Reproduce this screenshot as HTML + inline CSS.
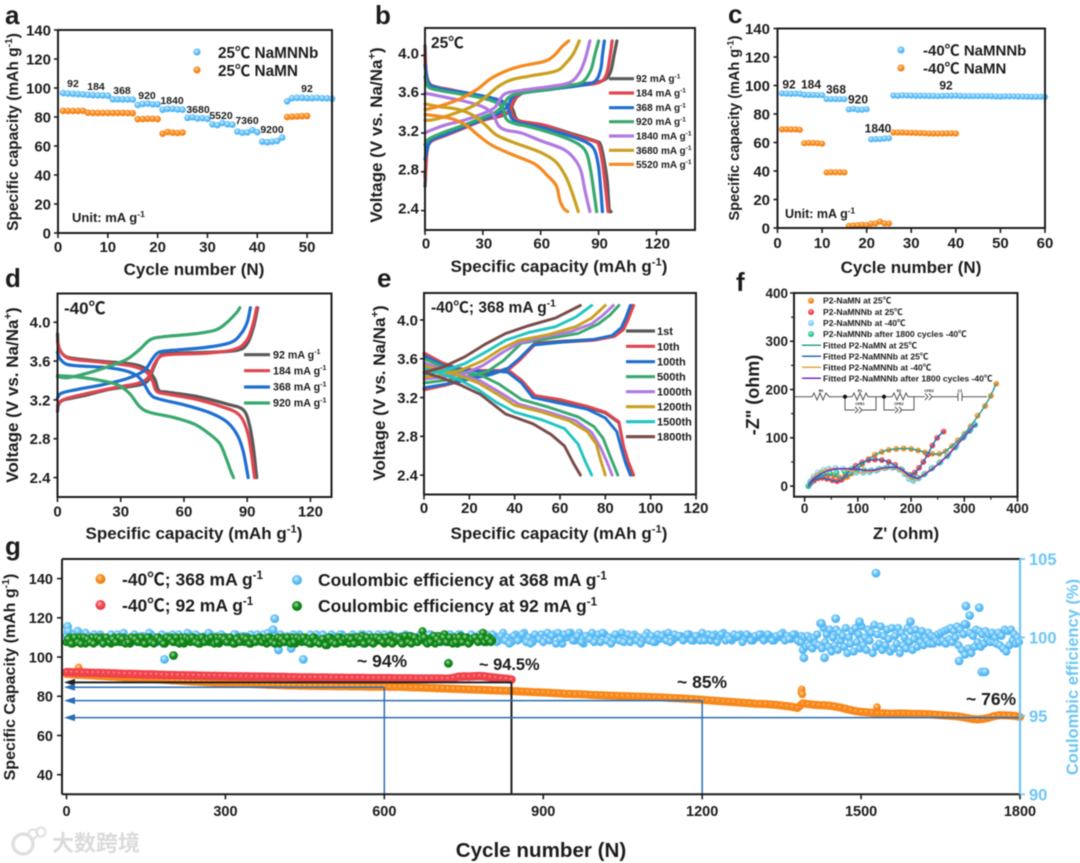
<!DOCTYPE html>
<html lang="en">
<head>
<meta charset="utf-8">
<title>Battery performance figure</title>
<style>
html,body{margin:0;padding:0;background:#fff;}
#figure{display:block;width:1080px;height:863px;filter:blur(0.55px);}
text{font-family:"Liberation Sans","Noto Sans CJK SC",sans-serif;font-weight:bold;fill:#1c1c1c;}
</style>
</head>
<body>
<svg id="figure" xmlns="http://www.w3.org/2000/svg" width="1080" height="863" viewBox="0 0 1080 863">
<defs>
<radialGradient id="ballBlue" cx="42%" cy="38%" r="62%"><stop offset="0%" stop-color="#d9f1ff"/><stop offset="50%" stop-color="#66c2f8"/><stop offset="100%" stop-color="#46aeef"/></radialGradient>
<radialGradient id="ballOrange" cx="42%" cy="38%" r="62%"><stop offset="0%" stop-color="#ffd9ae"/><stop offset="50%" stop-color="#f88c1e"/><stop offset="100%" stop-color="#f07d10"/></radialGradient>
<radialGradient id="ballRed" cx="42%" cy="38%" r="62%"><stop offset="0%" stop-color="#ffb9bd"/><stop offset="50%" stop-color="#f2464f"/><stop offset="100%" stop-color="#e83a44"/></radialGradient>
<radialGradient id="ballGreen" cx="42%" cy="38%" r="62%"><stop offset="0%" stop-color="#a9dcaa"/><stop offset="50%" stop-color="#128a1a"/><stop offset="100%" stop-color="#0b7a12"/></radialGradient>
<radialGradient id="ballCyan" cx="42%" cy="38%" r="62%"><stop offset="0%" stop-color="#e6f8ff"/><stop offset="55%" stop-color="#7cd3f6"/><stop offset="100%" stop-color="#62c6f0"/></radialGradient>
<radialGradient id="ballTeal" cx="42%" cy="38%" r="62%"><stop offset="0%" stop-color="#c4f5e6"/><stop offset="55%" stop-color="#2fc6a0"/><stop offset="100%" stop-color="#1fb48e"/></radialGradient>
<radialGradient id="flatOrange" cx="45%" cy="40%" r="60%"><stop offset="0%" stop-color="#ffc38a"/><stop offset="30%" stop-color="#f98b1d"/><stop offset="100%" stop-color="#f6841a"/></radialGradient>
<radialGradient id="flatRed" cx="45%" cy="40%" r="60%"><stop offset="0%" stop-color="#ff9fa6"/><stop offset="30%" stop-color="#f2464f"/><stop offset="100%" stop-color="#ee3f49"/></radialGradient>
</defs>
<g opacity="0.9">
  <circle cx="23" cy="844" r="10" fill="none" stroke="#dcdcdc" stroke-width="3.5"/>
  <circle cx="33" cy="834" r="4.5" fill="none" stroke="#dcdcdc" stroke-width="2"/>
  <circle cx="41" cy="832" r="4.5" fill="none" stroke="#dcdcdc" stroke-width="2"/>
  <text x="52" y="851" font-size="22" style="fill:#d8d8d8;font-weight:bold">大数跨境</text>
</g>
<g id="root"></g>
</svg>
<script>
// ---------- Panel a: rate capability at 25 C ----------
const aCycles = [1,2,3,4,5,6,7,8,9,10,11,12,13,14,15,16,17,18,19,20,21,22,23,24,25,26,27,28,29,30,31,32,33,34,35,36,37,38,39,40,41,42,43,44,45,46,47,48,49,50,51,52,53,54,55];
const aNaMNNb = [96.5,96.2,96,95.8,95.6,95.3,95.1,95,94.9,94.7,92.2,92.2,92.1,92.1,92,88.3,89,89.3,88.8,88.8,85,85.6,85.6,85.2,85.1,79.4,79.8,79,79.2,78.8,75,74.4,75.8,75,74.7,70,69.2,69.4,71,69.5,63,62.6,63,63.5,65.8,90.8,93,93.2,93.2,93,93,93.2,93,92.9,92.6];
const aNaMNCycles = [1,2,3,4,5,6,7,8,9,10,11,12,13,14,15,16,17,18,19,20,21,22,23,24,25,46,47,48,49,50];
const aNaMN = [84.3,84.2,84.2,84.2,84.3,83,82.8,82.8,82.8,82.8,82.8,82.8,82.8,82.7,82.6,78.5,78.6,78.8,78.8,78.6,68.5,69.6,69.2,69,69.3,80,80.2,80.4,80.6,80.7];
const aXTicks = [0,10,20,30,40,50];
const aYTicks = [0,20,40,60,80,100,120,140];

// ---------- Panel c: rate capability at -40 C ----------
const cCycles = [1,2,3,4,5,6,7,8,9,10,11,12,13,14,15,16,17,18,19,20,21,22,23,24,25,26,27,28,29,30,31,32,33,34,35,36,37,38,39,40,41,42,43,44,45,46,47,48,49,50,51,52,53,54,55,56,57,58,59,60];
const cNaMNNb = [94.5,94.3,94.2,94.3,94.2,93.5,93.4,93.4,93.3,93.3,90.5,90.5,90.5,90.4,90.4,83.2,83.6,83,83,83.4,62.2,62.4,62.4,62.8,63,93,92.8,93.1,93,92.9,92.8,92.8,92.8,92.7,92.7,92.6,92.7,92.8,92.8,92.9,92.7,92.6,92.6,92.6,92.6,92.6,92.6,92.5,92.3,92.2,92.4,92.4,92.4,92.3,92.3,92.2,92.1,92.1,92.1,92];
const cNaMNCycles = [1,2,3,4,5,6,7,8,9,10,11,12,13,14,15,16,17,18,19,20,21,22,23,24,25,26,27,28,29,30,31,32,33,34,35,36,37,38,39,40];
const cNaMN = [69.2,69.3,69.2,69.2,68.9,59.5,59.7,59.7,59.5,59.2,39,39.1,39.1,39.1,39,1.5,1.8,2,2.2,2,3,3.2,4.5,3.2,3.2,67,67,67,66.9,66.8,66.7,66.6,66.5,66.3,66.3,66.3,66.3,66.4,66.4,66.3];
const cXTicks = [0,10,20,30,40,50,60];
const cYTicks = [0,20,40,60,80,100,120,140];

// ---------- Panel b: voltage profiles at 25 C, [capacity, voltage] ----------
const b92Charge = [[0,2.65],[1,3.0],[3,3.12],[10,3.17],[20,3.25],[30,3.33],[40,3.38],[44,3.43],[46,3.52],[48,3.58],[52,3.62],[65,3.66],[80,3.7],[92,3.74],[96,3.82],[98,4.0],[99.5,4.15]];
const b92Discharge = [[0,4.1],[0.5,3.85],[2,3.72],[5,3.68],[15,3.63],[30,3.58],[40,3.52],[45,3.46],[47,3.36],[50,3.32],[62,3.28],[75,3.2],[88,3.12],[91,3.08],[93,2.9],[94.5,2.7],[95.5,2.42],[96.5,2.39]];
const b184Charge = [[0,2.75],[1,3.0],[3,3.11],[10,3.17],[20,3.25],[30,3.33],[40,3.39],[44,3.44],[46,3.54],[49,3.59],[52,3.62],[65,3.66],[80,3.69],[90,3.72],[94,3.8],[96,4.0],[97,4.15]];
const b184Discharge = [[0,4.0],[0.5,3.82],[2,3.72],[5,3.68],[15,3.64],[30,3.58],[40,3.52],[44,3.46],[46,3.36],[50,3.32],[62,3.28],[75,3.19],[87,3.12],[90,3.08],[92,2.9],[93.5,2.65],[95,2.39]];
const b368Charge = [[0,2.93],[1,3.02],[3,3.12],[10,3.18],[20,3.26],[30,3.34],[38,3.4],[43,3.48],[45,3.56],[50,3.61],[65,3.65],[80,3.69],[88,3.73],[91,3.85],[92,4.0],[93,4.15]];
const b368Discharge = [[0,3.9],[1,3.76],[3,3.69],[10,3.65],[25,3.6],[35,3.56],[42,3.5],[45,3.35],[50,3.3],[60,3.26],[75,3.17],[84,3.1],[88,3.02],[90,2.85],[91.2,2.6],[92,2.39]];
const b920Charge = [[0,3.08],[1,3.12],[3,3.15],[10,3.21],[20,3.28],[30,3.36],[37,3.42],[41,3.5],[43,3.56],[47,3.6],[60,3.64],[75,3.69],[82,3.73],[86,3.85],[88,4.0],[90,4.15]];
const b920Discharge = [[0,3.78],[1,3.7],[3,3.66],[10,3.63],[25,3.58],[35,3.53],[40,3.47],[42,3.35],[46,3.3],[55,3.26],[70,3.17],[80,3.08],[84,2.98],[86,2.8],[87.5,2.6],[89,2.39]];
const b1840Charge = [[0,3.2],[2,3.22],[10,3.28],[20,3.33],[30,3.4],[36,3.46],[39,3.55],[42,3.61],[50,3.64],[65,3.68],[75,3.72],[80,3.82],[83,3.96],[85.5,4.15]];
const b1840Discharge = [[0,3.61],[3,3.6],[10,3.57],[20,3.53],[30,3.47],[35,3.4],[38,3.28],[42,3.23],[50,3.2],[60,3.12],[72,3.03],[78,2.92],[81,2.8],[83,2.6],[85.5,2.39]];
const b3680Charge = [[0,3.33],[5,3.34],[15,3.4],[25,3.48],[32,3.58],[38,3.68],[45,3.75],[55,3.79],[68,3.84],[73,3.92],[77,4.02],[80,4.15]];
const b3680Discharge = [[0,3.5],[8,3.47],[18,3.44],[26,3.37],[32,3.27],[37,3.18],[45,3.11],[60,3.0],[68,2.9],[73,2.75],[76,2.6],[79.5,2.39]];
const b5520Charge = [[0,3.44],[8,3.48],[18,3.55],[27,3.65],[34,3.76],[42,3.84],[50,3.89],[62,3.94],[67,4.0],[71,4.09],[74.5,4.15]];
const b5520Discharge = [[0,3.39],[8,3.37],[15,3.34],[22,3.27],[28,3.17],[35,3.07],[45,2.98],[57,2.88],[63,2.77],[68,2.66],[70,2.5],[72,2.42],[74,2.39]];
const bLegend = ['92','184','368','920','1840','3680','5520'];
const bXTicks = [0,30,60,90,120];
const vTicks = [2.4,2.8,3.2,3.6,4.0];

// ---------- Panel d: voltage profiles at -40 C ----------
const d92Charge = [[0,3.08],[0.5,3.15],[3,3.2],[12,3.24],[25,3.31],[38,3.35],[43,3.4],[46,3.55],[49,3.66],[55,3.68],[70,3.69],[85,3.71],[90,3.78],[93,3.95],[95,4.15]];
const d92Discharge = [[0,3.88],[0.5,3.75],[3,3.66],[7,3.63],[20,3.6],[35,3.57],[42,3.52],[46,3.42],[48,3.3],[52,3.28],[65,3.24],[80,3.16],[88,3.1],[91,2.95],[93,2.7],[94.5,2.4]];
const d184Charge = [[0,3.14],[1,3.18],[5,3.22],[15,3.27],[28,3.33],[38,3.37],[43,3.43],[46,3.57],[49,3.65],[55,3.67],[70,3.68],[84,3.72],[90,3.82],[93,4.0],[94.5,4.15]];
const d184Discharge = [[0,3.8],[1,3.72],[3,3.66],[7,3.62],[20,3.59],[35,3.55],[42,3.49],[45,3.4],[47,3.29],[52,3.26],[65,3.21],[78,3.13],[86,3.05],[90,2.88],[92,2.65],[93.5,2.4]];
const d368Charge = [[0,3.22],[2,3.27],[10,3.31],[22,3.36],[33,3.42],[41,3.5],[45,3.62],[48,3.69],[54,3.71],[70,3.74],[82,3.79],[87,3.88],[90,4.0],[91.5,4.15]];
const d368Discharge = [[0,3.69],[1,3.63],[4,3.57],[10,3.55],[25,3.53],[35,3.48],[40,3.4],[44,3.26],[48,3.21],[60,3.15],[72,3.07],[80,2.98],[85,2.85],[88,2.68],[90.5,2.4]];
const d920Charge = [[0,3.44],[5,3.43],[15,3.48],[25,3.55],[33,3.62],[39,3.72],[44,3.82],[50,3.85],[65,3.88],[75,3.92],[80,3.99],[85,4.1],[86.5,4.15]];
const d920Discharge = [[0,3.45],[8,3.44],[18,3.41],[28,3.36],[34,3.27],[39,3.13],[44,3.07],[55,3.02],[65,2.95],[72,2.85],[77,2.75],[80,2.6],[82,2.48],[83.5,2.4]];
const dLegend = ['92','184','368','920'];
const dXTicks = [0,30,60,90,120];

// ---------- Panel e: cycling voltage profiles at -40 C ----------
const e1Charge = [[0,3.29],[10,3.34],[20,3.4],[30,3.45],[38,3.51],[42,3.59],[49,3.76],[60,3.78],[75,3.8],[84,3.84],[88,3.91],[90,4.01],[92,4.15]];
const e1Discharge = [[0,3.65],[8,3.55],[15,3.5],[25,3.47],[33,3.47],[38,3.46],[43,3.37],[49,3.21],[60,3.17],[72,3.1],[80,3.04],[86,2.94],[88,2.7],[90,2.54],[92,2.4]];
const e10Charge = [[0,3.28],[10,3.33],[20,3.39],[30,3.44],[38,3.5],[42,3.58],[49,3.75],[60,3.77],[75,3.79],[84,3.83],[88,3.9],[90,4.0],[92.5,4.15]];
const e10Discharge = [[0,3.66],[8,3.56],[15,3.5],[25,3.48],[33,3.48],[38,3.47],[43,3.38],[49,3.22],[60,3.18],[72,3.11],[80,3.05],[86,2.95],[88,2.7],[90,2.55],[92.5,2.4]];
const e100Charge = [[0,3.3],[10,3.34],[20,3.39],[30,3.44],[37,3.5],[42,3.6],[48,3.74],[60,3.77],[75,3.8],[83,3.84],[87,3.92],[89,4.02],[91,4.15]];
const e100Discharge = [[0,3.63],[8,3.54],[15,3.49],[25,3.47],[33,3.47],[37,3.46],[43,3.35],[48,3.2],[60,3.14],[72,3.08],[80,2.99],[85,2.85],[87,2.68],[89,2.52],[91,2.4]];
const e500Charge = [[0,3.35],[10,3.38],[20,3.42],[28,3.47],[35,3.58],[43,3.76],[55,3.81],[68,3.86],[77,3.96],[82,4.05],[86,4.15]];
const e500Discharge = [[0,3.6],[8,3.52],[15,3.47],[25,3.43],[33,3.34],[43,3.18],[55,3.1],[68,3.0],[75,2.9],[79,2.78],[82,2.6],[85.5,2.4]];
const e1000Charge = [[0,3.39],[8,3.41],[18,3.45],[26,3.53],[35,3.67],[42,3.76],[52,3.82],[65,3.88],[74,3.96],[79,4.05],[83.5,4.15]];
const e1000Discharge = [[0,3.56],[6,3.51],[14,3.45],[25,3.37],[33,3.26],[42,3.13],[55,3.05],[67,2.96],[74,2.84],[78,2.68],[81,2.52],[83,2.4]];
const e1200Charge = [[0,3.41],[8,3.43],[16,3.48],[26,3.58],[34,3.7],[42,3.79],[55,3.85],[67,3.93],[74,4.02],[80,4.15]];
const e1200Discharge = [[0,3.53],[6,3.49],[14,3.44],[24,3.35],[32,3.24],[40,3.12],[52,3.05],[64,2.96],[72,2.85],[76,2.72],[78,2.55],[80,2.4]];
const e1500Charge = [[0,3.44],[8,3.47],[18,3.55],[28,3.68],[36,3.79],[46,3.87],[58,3.93],[67,4.03],[74,4.15]];
const e1500Discharge = [[0,3.5],[6,3.46],[15,3.39],[24,3.28],[32,3.15],[40,3.05],[52,2.97],[62,2.88],[68,2.72],[71,2.55],[74,2.4]];
const e1800Charge = [[0,3.46],[8,3.51],[18,3.62],[27,3.75],[36,3.86],[46,3.94],[58,4.02],[64,4.09],[69,4.15]];
const e1800Discharge = [[0,3.46],[8,3.4],[16,3.33],[25,3.23],[36,3.03],[48,2.93],[56,2.82],[62,2.7],[66,2.52],[69,2.4]];
const eLegend = ['1st','10th','100th','500th','1000th','1200th','1500th','1800th'];
const eXTicks = [0,20,40,60,80,100,120];

// ---------- Panel f: Nyquist plots, [Z', -Z''] ----------
const fNaMN25 = [[7,0],[11,8],[17,14],[25,19],[35,23],[45,24],[55,22],[65,18],[73,17],[80,19],[88,26],[97,34],[108,45],[120,56],[132,65],[145,71],[158,75],[172,77],[186,78],[200,77],[213,74],[226,70],[240,67],[253,67],[265,72],[277,83],[288,95],[300,108],[312,124],[325,146],[339,166],[350,187],[360,212]];
const fNaMNNb25 = [[7,0],[11,6],[17,11],[25,16],[33,17],[42,15],[52,12],[61,10],[69,13],[77,22],[86,33],[96,42],[108,49],[120,54],[132,55],[145,54],[158,50],[170,44],[180,35],[190,25],[198,23],[207,28],[215,38],[223,50],[231,65],[240,84],[249,100],[261,113]];
const fNaMNNb40 = [[7,0],[11,10],[17,20],[25,28],[35,33],[45,36],[58,37],[72,36],[85,32],[97,28],[110,28],[122,29],[135,32],[150,37],[165,38],[178,34],[188,25],[196,15],[204,11],[214,16],[226,26],[240,38],[255,50],[270,66],[285,84],[300,104],[312,118],[320,127]];
const fNaMNNb1800 = [[7,0],[11,8],[17,15],[25,21],[35,25],[48,27],[60,28],[75,30],[88,36],[100,35],[112,33],[125,33],[140,36],[155,39],[170,39],[183,34],[193,24],[202,19],[212,18],[224,24],[238,36],[253,48],[268,62],[283,80],[298,100],[310,114],[320,127]];
const fFitNaMN25 = [[7,0],[15,12],[30,21],[45,24],[60,20],[72,17],[85,23],[100,37],[120,56],[145,71],[172,77],[200,77],[226,70],[245,66],[258,68],[277,83],[300,108],[325,144],[345,178],[360,212]];
const fFitNaMNNb25 = [[7,0],[15,10],[30,17],[45,14],[61,10],[72,16],[86,33],[108,49],[132,55],[158,50],[180,35],[196,23],[207,28],[223,50],[240,84],[249,100],[261,113]];
const fFitNaMNNb40 = [[7,0],[17,20],[35,33],[58,37],[85,32],[105,28],[135,32],[165,38],[185,28],[204,12],[226,26],[255,50],[285,84],[320,127]];
const fFitNaMNNb1800 = [[7,0],[12,10],[20,18],[30,25],[42,31],[55,35],[70,36],[85,36],[100,35],[115,33],[130,33],[145,37],[160,39],[175,38],[187,31],[197,22],[207,18],[215,17],[228,26],[243,38],[258,52],[273,68],[288,87],[303,106],[316,122],[322,128]];
const fDotLegend = ['P2-NaMN at 25℃','P2-NaMNNb at 25℃','P2-NaMNNb at -40℃','P2-NaMNNb after 1800 cycles -40℃'];
const fLineLegend = ['Fitted P2-NaMN at 25℃','Fitted P2-NaMNNb at 25℃','Fitted P2-NaMNNb at -40℃','Fitted P2-NaMNNb after 1800 cycles -40℃'];
const fXTicks = [0,100,200,300,400];
const fYTicks = [0,100,200,300,400];

// ---------- Panel g: long-term cycling ----------
const gCapStep = 10;
const gCap368 = [91.4,91.2,91.0,90.9,90.7,90.6,90.4,90.3,90.1,90.0,
89.8,89.6,89.5,89.3,89.1,89.0,88.8,88.6,88.5,88.3,
88.1,88.0,87.8,87.7,87.5,87.4,87.2,87.1,87.0,86.8,
86.7,86.6,86.5,86.4,86.3,86.2,86.1,86.0,85.9,85.8,
85.7,85.6,85.5,85.5,85.4,85.4,85.3,85.3,85.2,85.2,
85.2,85.1,85.1,85.1,85.0,85.0,85.0,84.9,84.9,84.9,
84.9,84.8,84.8,84.8,84.7,84.6,84.5,84.4,84.3,84.2,
84.1,84.0,83.9,83.8,83.7,83.6,83.5,83.4,83.3,83.2,
83.1,83.0,82.9,82.8,82.7,82.6,82.4,82.3,82.1,82.0,
81.9,81.8,81.6,81.5,81.3,81.2,81.1,81.0,80.9,80.7,
80.6,80.5,80.4,80.3,80.2,80.1,80.0,79.9,79.8,79.7,
79.6,79.5,79.4,79.3,79.1,79.0,78.9,78.7,78.6,78.4,
78.2,78.0,77.8,77.6,77.4,77.2,77.0,76.8,76.6,76.4,
76.2,76.1,76.0,75.8,75.6,75.3,75.0,74.6,74.0,76.4,
76.0,75.7,75.5,75.4,75.2,74.8,74.3,73.6,73.0,72.4,
72.0,71.8,71.6,71.4,71.3,71.2,71.1,71.2,71.2,71.1,
71.0,71.0,70.9,70.8,70.6,70.4,70.2,70.0,69.8,69.4,
68.9,68.4,68.2,68.4,68.9,69.8,70.3,70.3,70.2,70.0,
69.4];
const gCap368Outliers = [[23,94.7],[1388,83.5],[1387,82],[1389,81],[1530,74.5]];
const gCap92 = [92.3,92.2,92.2,92.1,92.0,91.9,91.9,91.8,91.7,91.6,
91.5,91.4,91.4,91.3,91.2,91.1,91.1,91.0,90.9,90.8,
90.8,90.7,90.7,90.6,90.6,90.5,90.5,90.4,90.4,90.3,
90.3,90.2,90.2,90.1,90.1,90.0,90.0,90.0,89.9,89.9,
89.8,89.8,89.7,89.7,89.6,89.6,89.6,89.5,89.5,89.5,
89.4,89.4,89.4,89.3,89.3,89.3,89.3,89.2,89.2,89.2,
89.2,89.2,89.1,89.1,89.1,89.1,89.0,89.0,89.0,89.0,
89.0,89.0,88.9,89.3,89.9,90.1,90.0,90.2,90.3,90.1,
89.7,89.4,89.1,88.9,88.5];
const gCeStepA = 8;
const gCe368A = [100.1,99.9,100.2,100.0,99.8,100.1,99.9,99.7,100.2,100.0,
99.8,100.1,100.2,99.9,99.7,100.0,100.2,99.8,100.1,99.9,
100.2,100.0,99.8,99.7,100.1,100.2,99.9,100.0,99.8,100.2,
99.9,100.1,99.7,100.0,100.2,99.9,99.8,100.1,100.0,99.7,
100.2,99.9,100.1,99.8,100.0,100.2,99.7,99.9,100.1,100.2,
99.8,100.0,100.1,99.9,99.7,100.2,100.0,99.8,100.1,100.2,
99.9,100.0,99.8,100.1,99.7,100.2,100.0,99.9,100.1,99.8,
100.2,99.9,100.0,99.8,100.1,100.2,99.9,99.7,100.0,100.1,
100.2,99.8,100.0,99.9,100.1,99.7,100.2,99.9,100.0,100.2,
99.8,100.1,99.9,100.2,100.0,99.7,100.1,99.8,100.0,100.2,
99.9,100.1,99.8,100.3,100.0,99.7,100.2,99.9,100.3,100.0,
99.7,100.1,100.2,99.9,99.8,100.2,100.3,99.6,100.0,100.3,
99.8,100.3,99.6,100.1,100.3,99.9,99.7,100.2,100.0,99.8,
100.1,100.3,99.9,99.7,100.2,100.0,99.8,100.3,100.1,99.7,
99.9,100.2,100.3,99.8,100.0,100.1,99.9,100.2,99.8,100.1,
100.3,99.9,99.8,100.2,100.0,100.3,100.1,99.8,100.0,100.2,
99.9,100.1,99.8,100.0,100.2,99.9,100.1,99.8,100.0,100.3,
100.1,99.9,100.2,99.7];
const gCe368A2 = [99.8,100.2,99.7,100.1,100.3,99.9,100.2,100.1,99.8,99.7,
100.2,99.9,99.7,100.3,100.0,99.8,99.7,100.1,99.9,100.3,
99.8,99.7,100.2,100.1,99.9,99.7,100.2,99.8,100.3,99.9,
100.2,99.7,100.1,100.3,99.8,100.1,100.2,99.7,99.9,100.2,
99.8,100.1,99.7,100.2,99.8,99.9,100.2,100.3,99.7,99.9,
100.2,99.7,99.9,100.2,100.1,99.8,99.7,100.2,99.8,99.9,
100.2,99.8,100.2,99.7,100.2,99.9,99.7,100.2,99.8,100.2,
99.8,100.2,99.7,100.2,99.9,99.8,100.2,100.1,99.8,99.7,
99.9,100.1,99.7,100.2,99.8,100.2,99.8,100.1,99.7,99.9,
100.2,99.7,100.2,99.8,99.7,100.2,99.9,100.2,99.7,99.9,
100.2,99.7,100.1,99.8,99.6,100.1,99.8,100.2,99.7,99.6,
100.2,99.9,99.7,100.3,100.1,99.6,99.9,100.2,100.3,99.8,
100.1,99.7,100.1,99.9,99.7,100.2,100.3,99.8,99.6,100.2,
99.8,99.7,100.2,100.1,99.8,99.6,100.1,99.8,99.7,100.2,
100.1,99.8,99.7,100.2,100.1,99.8,100.2,99.8,100.1,99.8,
99.8,100.2,100.1,99.7,100.2,99.8,99.9,100.2,100.1,99.7,
100.2,99.8,100.1,100.2,99.8,100.2,99.8,100.1,100.2,99.8,
99.9,100.2,99.8,100.1];
const gCeStepB = 3;
const gCe368B = [99.7,99.2,100.0,99.4,100.1,99.5,99.9,99.3,100.0,99.6,
100.2,99.5,100.9,99.3,100.6,99.7,100.2,99.4,100.5,99.1,
100.0,99.5,100.5,99.2,100.3,99.8,100.1,99.4,100.6,99.0,
100.0,99.6,100.4,99.1,100.6,99.7,100.2,99.3,100.7,99.5,
100.0,99.2,100.5,99.8,100.3,99.0,100.8,99.4,100.2,99.6,
100.7,99.2,100.1,99.5,100.5,99.9,99.1,100.6,99.3,100.1,
99.6,100.6,99.0,100.3,99.5,100.0,99.3,100.6,99.7,100.4,
99.2,99.9,100.5,99.4,100.1,99.7,100.4,99.5,100.0,99.8,
100.3,99.6,100.1,99.6,100.0,99.8,100.2,99.7,100.3,99.8,
100.4,99.6,100.5,99.9,100.6,99.7,100.4,100.0,100.7,99.5,
100.5,99.2,100.2,98.9,100.8,99.3,100.3,99.0,100.1,99.4,
100.5,99.7,100.4,99.4,100.2,99.6,100.4,99.9,100.2,99.7,
100.3,99.7,100.0,99.6,100.3,99.5,100.1,99.3,100.5,99.1,
100.4,99.5,100.5,99.8,100.2,99.6,100.0,99.7];
const gCe368Outliers = [[2,100.7],[3,100.4],[21,100.4],[185,98.6],[393,101.2],[390,100.5],[400,99.2],[424,99.3],[447,98.6],[1528,104.1],[1698,102],[1723,101.9],[1705,101.4],[1696,100.85],[1728,97.8],[1734,97.8],[1452,101.2],[1425,100.9],[1593,101],[1392,98.7],[1431,98.7],[1685,98.5],[1497,101]];
const gCeStep92 = 6;
const gCe92 = [99.7,100.0,99.6,99.9,100.0,99.8,99.6,99.9,100.0,99.7,
99.8,100.0,99.7,99.9,99.6,100.0,99.8,99.7,100.0,99.9,
99.6,99.8,100.0,99.7,99.9,99.6,100.0,99.8,99.7,100.0,
99.9,99.6,99.8,100.0,99.7,99.9,100.0,99.6,99.8,99.7,
100.0,99.9,99.6,100.0,99.8,99.7,99.9,100.0,99.6,99.8,
100.0,99.7,99.9,99.6,100.0,99.8,99.7,100.0,99.6,99.9,
99.8,100.0,99.7,99.6,100.0,99.9,99.8,99.6,100.0,99.7,
99.9,100.0,99.6,99.8,99.7,100.0,99.9,99.6,100.0,99.8,
99.7,99.9,99.5,100.0,99.8,99.6,100.0,99.7,99.9,99.6,
100.0,99.8,99.7,100.1,99.6,99.9,100.0,99.7,99.8,100.0,
99.6,99.9,100.1,99.7,99.8,100.0,99.6,99.9,100.1,99.7,
100.0,99.8,100.4,99.7,99.9,100.0,99.6,100.1,99.8,100.2,
99.7,99.9,100.0,99.6,100.1,99.8,100.0,99.7,99.9,100.0,
99.8,100.3,99.7,100.0,99.8];
const gCe92B = [99.9,99.6,100.0,99.7,99.6,100.0,99.9,99.7,99.6,100.0,
99.9,99.6,100.0,99.7,99.9,99.7,100.0,99.9,99.6,99.7,
100.0,99.9,99.7,100.0,99.6,100.0,99.7,99.6,100.0,99.8,
99.6,100.0,99.9,99.7,100.0,99.6,99.7,100.0,99.9,100.0,
99.7,99.6,100.0,99.7,99.9,100.0,99.6,99.7,100.0,99.9,
99.7,100.0,99.6,99.9,99.7,100.0,99.9,99.6,99.9,99.7,
100.0,99.7,99.9,100.0,99.7,99.6,100.0,99.9,99.7,100.0,
99.6,99.7,100.0,99.9,100.0,99.7,99.6,100.0,99.7,99.6,
99.9,99.5,100.0,99.7,99.6,100.0,99.7,99.9,100.0,99.9,
99.6,100.0,99.9,99.6,100.0,99.7,99.6,100.0,99.9,99.7,
100.0,99.7,99.6,100.0,99.9,99.6,100.1,99.7,99.6,100.0,
99.7,99.9,100.0,99.6,99.7,100.1,99.9,99.7,100.0,99.7,
100.0,99.6,99.7,100.0,99.7,100.0,99.6,99.9,100.0,99.7,
100.0,99.7,99.9,99.7];
const gCe92Outliers = [[202,98.85],[721,98.35]];
const gCapTicks = [40,60,80,100,120,140];
const gCeTicks = [90,95,100,105];
const gXTicks = [0,300,600,900,1200,1500,1800];
const gRetention = [[840,87.1],[600,84.6],[1200,77.8],[1800,69.1]];

// ---------- drawing helpers ----------
const NS = 'http://www.w3.org/2000/svg';
const root = document.getElementById('root');
function mk(parent, tag, attrs, name, interactable) {
  const el = document.createElementNS(NS, tag);
  for (const k in attrs) el.setAttribute(k, attrs[k]);
  
  
  parent.appendChild(el);
  return el;
}
function group(parent, name) { return mk(parent, 'g', {}, name); }
function label(parent, x, y, str, size, name, opts) {
  opts = opts || {};
  const attrs = {x: x, y: y, 'font-size': size};
  if (opts.anchor) attrs['text-anchor'] = opts.anchor;
  if (opts.rotate) attrs.transform = 'rotate(' + opts.rotate + ' ' + x + ' ' + y + ')';
  if (opts.fill) attrs.style = 'fill:' + opts.fill;
  const el = mk(parent, 'text', attrs, name);
  const parts = String(str).split('^');
  const shift = size * 0.38;
  parts.forEach(function (p, i) {
    if (!p) return;
    const t = document.createElementNS(NS, 'tspan');
    if (i % 2 === 1) { t.setAttribute('dy', -shift); t.setAttribute('font-size', size * 0.66); }
    else if (i > 0) { t.setAttribute('dy', shift); }
    t.textContent = p;
    el.appendChild(t);
  });
  return el;
}
function panel(box) {
  box.fx = function (v) { return box.L + (v - box.xmin) / (box.xmax - box.xmin) * (box.R - box.L); };
  box.fy = function (v) { return box.B - (v - box.ymin) / (box.ymax - box.ymin) * (box.B - box.T); };
  return box;
}
function axes(p, g, xTicks, yTicks, o) {
  xTicks.forEach(function (t) {
    mk(g, 'line', {x1: p.fx(t), x2: p.fx(t), y1: p.B, y2: p.B + 5, stroke: '#1c1c1c', 'stroke-width': 1.6}, 'x-tick');
    label(g, p.fx(t) + (o.xDx || 0), o.xBase, t, o.size, 'x-tick-label', {anchor: 'middle'});
  });
  yTicks.forEach(function (t) {
    mk(g, 'line', {x1: p.L - 4, x2: p.L, y1: p.fy(t), y2: p.fy(t), stroke: '#1c1c1c', 'stroke-width': 1.6}, 'y-tick');
    label(g, o.yRight, p.fy(t) + o.size * 0.36 + (o.yDy || 0), o.digits ? t.toFixed(o.digits) : t, o.size, 'y-tick-label', {anchor: 'end'});
  });
}
function frame(p, g) {
  mk(g, 'rect', {x: p.L, y: p.T, width: p.R - p.L, height: p.B - p.T, fill: 'none', stroke: '#1c1c1c', 'stroke-width': 2}, 'plot-frame');
}
function dots(p, g, xs, ys, r, fill, name) {
  ys.forEach(function (v, i) {
    mk(g, 'circle', {cx: p.fx(xs[i]), cy: p.fy(v), r: r, fill: fill}, name);
  });
}
function pairDots(p, g, pairs, r, fill, name) {
  pairs.forEach(function (d) {
    mk(g, 'circle', {cx: p.fx(d[0]), cy: p.fy(d[1]), r: r, fill: fill}, name);
  });
}
function stepDots(p, g, start, step, ys, r, fill, name) {
  ys.forEach(function (v, i) {
    mk(g, 'circle', {cx: p.fx(start + i * step), cy: p.fy(v), r: r, fill: fill}, name);
  });
}
function curve(p, g, pairs, color, width, name) {
  const pts = pairs.map(function (d) { return p.fx(d[0]).toFixed(1) + ',' + p.fy(d[1]).toFixed(1); }).join(' ');
  return mk(g, 'polyline', {points: pts, fill: 'none', stroke: color, 'stroke-width': width, 'stroke-linejoin': 'round', 'stroke-linecap': 'round'}, name);
}
function smoothCurve(p, g, pairs, color, width, name) {
  const pts = pairs.map(function (d) { return [p.fx(d[0]), p.fy(d[1])]; });
  let d = 'M' + pts[0][0].toFixed(1) + ' ' + pts[0][1].toFixed(1);
  for (let i = 0; i < pts.length - 1; i++) {
    const a = pts[Math.max(i - 1, 0)], b = pts[i], c = pts[i + 1], e = pts[Math.min(i + 2, pts.length - 1)];
    const c1x = b[0] + (c[0] - a[0]) / 6, c1y = b[1] + (c[1] - a[1]) / 6;
    const c2x = c[0] - (e[0] - b[0]) / 6, c2y = c[1] - (e[1] - b[1]) / 6;
    d += 'C' + c1x.toFixed(1) + ' ' + c1y.toFixed(1) + ' ' + c2x.toFixed(1) + ' ' + c2y.toFixed(1) + ' ' + c[0].toFixed(1) + ' ' + c[1].toFixed(1);
  }
  return mk(g, 'path', {d: d, fill: 'none', stroke: color, 'stroke-width': width, 'stroke-linejoin': 'round', 'stroke-linecap': 'round'}, name);
}
function stepPairs(start, step, ys) {
  return ys.map(function (v, i) { return [start + i * step, v]; });
}
function legendLine(g, x1, x2, y, color, width, name) {
  mk(g, 'line', {x1: x1, x2: x2, y1: y, y2: y, stroke: color, 'stroke-width': width}, name);
}

label(root, 5, 24, 'a', 26, 'panel-letter-a');
label(root, 375, 24, 'b', 26, 'panel-letter-b');
label(root, 728, 23, 'c', 26, 'panel-letter-c');
label(root, 5, 287, 'd', 26, 'panel-letter-d');
label(root, 377, 287, 'e', 26, 'panel-letter-e');
label(root, 736, 291, 'f', 26, 'panel-letter-f');
label(root, 5, 555, 'g', 26, 'panel-letter-g');

// ---------- Panel a ----------
(function () {
  const p = panel({L: 58, R: 332, T: 30, B: 233, xmin: 0, xmax: 55, ymin: 0, ymax: 140});
  const g = group(root, 'panel-a');
  dots(p, g, aCycles, aNaMNNb, 3.3, 'url(#ballBlue)', 'namnnb-25c-point');
  dots(p, g, aNaMNCycles, aNaMN, 3.3, 'url(#ballOrange)', 'namn-25c-point');
  frame(p, g);
  axes(p, g, aXTicks, aYTicks, {size: 15, xBase: 252, yRight: 51});
  label(g, 194, 275, 'Cycle number (N)', 17, 'x-axis-title', {anchor: 'middle'});
  label(g, 18, 132, 'Specific capacity (mAh g^-1^)', 15.5, 'y-axis-title', {anchor: 'middle', rotate: -90});
  mk(g, 'circle', {cx: 197, cy: 52, r: 3.6, fill: 'url(#ballBlue)'}, 'legend-marker-namnnb');
  mk(g, 'circle', {cx: 197, cy: 70, r: 3.6, fill: 'url(#ballOrange)'}, 'legend-marker-namn');
  label(g, 218, 58, '25℃ NaMNNb', 15.3, 'legend-label-namnnb');
  label(g, 218, 76, '25℃ NaMN', 15.3, 'legend-label-namn');
  const rates = [['92',73,83],['184',96,86],['368',122,90],['920',147,95],['1840',172,100],['3680',198,109],['5520',221,115],['7360',247,120],['9200',272,129],['92',307,88]];
  rates.forEach(function (r) { label(g, r[1], r[2] + 4, r[0], 10.5, 'rate-label', {anchor: 'middle'}); });
  label(g, 72, 222, 'Unit: mA g^-1^', 13, 'unit-note');
})();

// ---------- Panel c ----------
(function () {
  const p = panel({L: 777.5, R: 1045, T: 28.5, B: 228, xmin: 0, xmax: 60, ymin: 0, ymax: 140});
  const g = group(root, 'panel-c');
  dots(p, g, cCycles, cNaMNNb, 3.1, 'url(#ballBlue)', 'namnnb-minus40c-point');
  dots(p, g, cNaMNCycles, cNaMN, 3.1, 'url(#ballOrange)', 'namn-minus40c-point');
  frame(p, g);
  axes(p, g, cXTicks, cYTicks, {size: 15, xBase: 248, yRight: 770});
  label(g, 911, 273, 'Cycle number (N)', 17, 'x-axis-title', {anchor: 'middle'});
  label(g, 739, 128, 'Specific capacity (mAh g^-1^)', 14.5, 'y-axis-title', {anchor: 'middle', rotate: -90});
  mk(g, 'circle', {cx: 901, cy: 50, r: 3.6, fill: 'url(#ballBlue)'}, 'legend-marker-namnnb');
  mk(g, 'circle', {cx: 901, cy: 68, r: 3.6, fill: 'url(#ballOrange)'}, 'legend-marker-namn');
  label(g, 923, 55.5, '-40℃ NaMNNb', 15, 'legend-label-namnnb');
  label(g, 923, 73.5, '-40℃ NaMN', 15, 'legend-label-namn');
  const rates = [['92',789,84],['184',811,84],['368',836,89],['920',858,99],['1840',878,128],['92',946,85]];
  rates.forEach(function (r) { label(g, r[1], r[2] + 4.5, r[0], 12, 'rate-label', {anchor: 'middle'}); });
  label(g, 785, 218, 'Unit: mA g^-1^', 12.5, 'unit-note');
})();

const colorsB = ['#5a5a5a','#e0454f','#1f6fd0','#3aa86f','#b07ae0','#c9a020','#f58a1f'];

// ---------- Panel b ----------
(function () {
  const p = panel({L: 425, R: 695, T: 28, B: 230, xmin: 0, xmax: 140, ymin: 2.2, ymax: 4.283});
  const g = group(root, 'panel-b');
  const series = [[b92Charge,b92Discharge],[b184Charge,b184Discharge],[b368Charge,b368Discharge],[b920Charge,b920Discharge],[b1840Charge,b1840Discharge],[b3680Charge,b3680Discharge],[b5520Charge,b5520Discharge]];
  series.forEach(function (s, i) {
    smoothCurve(p, g, s[0], colorsB[i], 3.2, 'charge-curve-' + bLegend[i]);
    smoothCurve(p, g, s[1], colorsB[i], 3.2, 'discharge-curve-' + bLegend[i]);
  });
  frame(p, g);
  axes(p, g, bXTicks, vTicks, {size: 15, xBase: 248.5, yRight: 419, digits: 1, yDy: -2.5, xDx: 1});
  label(g, 559, 272, 'Specific capacity (mAh g^-1^)', 17, 'x-axis-title', {anchor: 'middle'});
  label(g, 382, 135, 'Voltage (V vs. Na/Na^+^)', 17, 'y-axis-title', {anchor: 'middle', rotate: -90});
  label(g, 431, 48, '25℃', 15.5, 'temperature-note');
  const ly = [78.7,93,107.7,121.7,136,150.3,164.3];
  bLegend.forEach(function (n, i) {
    legendLine(g, 609, 634, ly[i], colorsB[i], 3.2, 'legend-line-' + n);
    label(g, 636, ly[i] + 3.5, n + ' mA g^-1^', 10, 'legend-label-' + n);
  });
})();

// ---------- Panel d ----------
(function () {
  const p = panel({L: 57.5, R: 331.5, T: 293.5, B: 497, xmin: 0, xmax: 130, ymin: 2.2, ymax: 4.296});
  const g = group(root, 'panel-d');
  const colors = ['#5a5a5a','#e0454f','#1f6fd0','#3aa86f'];
  const series = [[d92Charge,d92Discharge],[d184Charge,d184Discharge],[d368Charge,d368Discharge],[d920Charge,d920Discharge]];
  series.forEach(function (s, i) {
    smoothCurve(p, g, s[0], colors[i], 3.2, 'charge-curve-' + dLegend[i]);
    smoothCurve(p, g, s[1], colors[i], 3.2, 'discharge-curve-' + dLegend[i]);
  });
  frame(p, g);
  axes(p, g, dXTicks, vTicks, {size: 15, xBase: 516.5, yRight: 50.5, digits: 1});
  label(g, 194, 539, 'Specific capacity (mAh g^-1^)', 17, 'x-axis-title', {anchor: 'middle'});
  label(g, 18, 395, 'Voltage (V vs. Na/Na^+^)', 17, 'y-axis-title', {anchor: 'middle', rotate: -90});
  label(g, 64, 314, '-40℃', 17, 'temperature-note');
  const ly = [354.7,370.7,387,403];
  dLegend.forEach(function (n, i) {
    legendLine(g, 244, 270, ly[i], colors[i], 3.2, 'legend-line-' + n);
    label(g, 273, ly[i] + 3.6, n + ' mA g^-1^', 10.7, 'legend-label-' + n);
  });
})();

// ---------- Panel e ----------
(function () {
  const p = panel({L: 424, R: 696, T: 293, B: 494.5, xmin: 0, xmax: 120, ymin: 2.2, ymax: 4.278});
  const g = group(root, 'panel-e');
  const colors = ['#5a5a5a','#e0454f','#1f6fd0','#3aa86f','#b07ae0','#c9a020','#22c4c4','#7a4a4a'];
  const series = [[e1Charge,e1Discharge],[e10Charge,e10Discharge],[e100Charge,e100Discharge],[e500Charge,e500Discharge],[e1000Charge,e1000Discharge],[e1200Charge,e1200Discharge],[e1500Charge,e1500Discharge],[e1800Charge,e1800Discharge]];
  series.forEach(function (s, i) {
    curve(p, g, s[0], colors[i], 2.9, 'charge-curve-' + eLegend[i]);
    curve(p, g, s[1], colors[i], 2.9, 'discharge-curve-' + eLegend[i]);
  });
  frame(p, g);
  axes(p, g, eXTicks, vTicks, {size: 15, xBase: 513, yRight: 418, digits: 1});
  label(g, 559, 539, 'Specific capacity (mAh g^-1^)', 17, 'x-axis-title', {anchor: 'middle'});
  label(g, 385, 393, 'Voltage (V vs. Na/Na^+^)', 17, 'y-axis-title', {anchor: 'middle', rotate: -90});
  label(g, 431, 312.5, '-40℃; 368 mA g^-1^', 15.5, 'condition-note');
  const ly = [331,346.3,361.7,376.7,391.7,406.7,421.7,436.7];
  eLegend.forEach(function (n, i) {
    legendLine(g, 626, 655, ly[i], colors[i], 3.2, 'legend-line-' + n);
    label(g, 657, ly[i] + 4, n, 11, 'legend-label-' + n);
  });
})();

// ---------- Panel f ----------
(function () {
  const p = panel({L: 794, R: 1017.5, T: 293, B: 496.7, xmin: -20, xmax: 400, ymin: -22, ymax: 400});
  const g = group(root, 'panel-f');
  pairDots(p, g, fNaMN25, 2.9, 'url(#ballOrange)', 'namn-25c-point');
  pairDots(p, g, fNaMNNb25, 2.9, 'url(#ballRed)', 'namnnb-25c-point');
  pairDots(p, g, fNaMNNb40, 3.1, 'url(#ballCyan)', 'namnnb-minus40c-point');
  pairDots(p, g, fNaMNNb1800, 2.8, 'url(#ballTeal)', 'namnnb-1800-cycles-point');
  smoothCurve(p, g, fFitNaMN25, '#2e9e9a', 1.5, 'fit-namn-25c');
  smoothCurve(p, g, fFitNaMNNb25, '#2c6cb0', 1.5, 'fit-namnnb-25c');
  smoothCurve(p, g, fFitNaMNNb40, '#e3a53c', 1.5, 'fit-namnnb-minus40c');
  smoothCurve(p, g, fFitNaMNNb1800, '#7a2bc4', 1.5, 'fit-namnnb-1800-cycles');
  frame(p, g);
  axes(p, g, fXTicks, fYTicks, {size: 13.5, xBase: 513, yRight: 788});
  [50,150,250,350].forEach(function (t) {
    mk(g, 'line', {x1: p.fx(t), x2: p.fx(t), y1: p.B, y2: p.B + 3, stroke: '#1c1c1c', 'stroke-width': 1.2}, 'x-minor-tick');
    mk(g, 'line', {x1: p.L - 3, x2: p.L, y1: p.fy(t), y2: p.fy(t), stroke: '#1c1c1c', 'stroke-width': 1.2}, 'y-minor-tick');
  });
  label(g, 906, 539, "Z' (ohm)", 17, 'x-axis-title', {anchor: 'middle'});
  label(g, 759, 395, '-Z" (ohm)', 18, 'y-axis-title', {anchor: 'middle', rotate: -90});
  const dotFill = ['url(#ballOrange)','url(#ballRed)','url(#ballCyan)','url(#ballTeal)'];
  const dy = [300.7,312,323,334];
  fDotLegend.forEach(function (n, i) {
    mk(g, 'circle', {cx: 811, cy: dy[i], r: 3, fill: dotFill[i]}, 'legend-marker-dot');
    label(g, 823, dy[i] + 3, n, 8.6, 'legend-label-dot');
  });
  const lineColors = ['#2e9e9a','#2c6cb0','#e3a53c','#7a2bc4'];
  const lyy = [345.3,356.3,367.3,378.3];
  fLineLegend.forEach(function (n, i) {
    legendLine(g, 802, 821, lyy[i], lineColors[i], 1.5, 'legend-line-fit');
    label(g, 823, lyy[i] + 3, n, 8.6, 'legend-label-fit');
  });
  // equivalent circuit
  const c = group(g, 'equivalent-circuit');
  const s = '#555';
  mk(c, 'polyline', {points: '795,396.7 812,396.7 814,393 817,400 820,393 823,400 826,393 829,396.7 845,396.7', fill: 'none', stroke: s, 'stroke-width': 1}, 'resistor-r0');
  mk(c, 'polyline', {points: '845,396.7 852,396.7 854,393 857,400 860,393 863,400 866,393 868,396.7 876,396.7 876,410 862,410', fill: 'none', stroke: s, 'stroke-width': 1}, 'r1-with-cpe1');
  mk(c, 'polyline', {points: '845,396.7 845,410 855,410', fill: 'none', stroke: s, 'stroke-width': 1}, 'cpe1-branch');
  mk(c, 'polyline', {points: '855,407 858,410 855,413', fill: 'none', stroke: s, 'stroke-width': 1}, 'cpe1-symbol');
  mk(c, 'polyline', {points: '859,407 862,410 859,413', fill: 'none', stroke: s, 'stroke-width': 1}, 'cpe1-symbol');
  mk(c, 'polyline', {points: '876,396.7 892,396.7 894,393 897,400 900,393 903,400 906,393 908,396.7 914,396.7 914,410 901,410', fill: 'none', stroke: s, 'stroke-width': 1}, 'r2-with-cpe2');
  mk(c, 'polyline', {points: '884,396.7 884,410 895,410', fill: 'none', stroke: s, 'stroke-width': 1}, 'cpe2-branch');
  mk(c, 'polyline', {points: '895,407 898,410 895,413', fill: 'none', stroke: s, 'stroke-width': 1}, 'cpe2-symbol');
  mk(c, 'polyline', {points: '899,407 902,410 899,413', fill: 'none', stroke: s, 'stroke-width': 1}, 'cpe2-symbol');
  mk(c, 'line', {x1: 914, x2: 925, y1: 396.7, y2: 396.7, stroke: s, 'stroke-width': 1}, 'wire');
  mk(c, 'polyline', {points: '925,393.5 928,396.7 925,400', fill: 'none', stroke: s, 'stroke-width': 1}, 'cpe3-left');
  mk(c, 'polyline', {points: '929,393.5 932,396.7 929,400', fill: 'none', stroke: s, 'stroke-width': 1}, 'cpe3-right');
  mk(c, 'line', {x1: 932, x2: 958, y1: 396.7, y2: 396.7, stroke: s, 'stroke-width': 1}, 'wire');
  mk(c, 'line', {x1: 958, x2: 958, y1: 392.5, y2: 401, stroke: s, 'stroke-width': 1}, 'c1-plate');
  mk(c, 'line', {x1: 962, x2: 962, y1: 392.5, y2: 401, stroke: s, 'stroke-width': 1}, 'c1-plate');
  mk(c, 'line', {x1: 962, x2: 987, y1: 396.7, y2: 396.7, stroke: s, 'stroke-width': 1}, 'wire');
  mk(c, 'circle', {cx: 845, cy: 396.7, r: 2.1, fill: '#111'}, 'node');
  mk(c, 'circle', {cx: 884, cy: 396.7, r: 2.1, fill: '#111'}, 'node');
  [['R0',821,392],['R1',860,392],['CPE1',860,405],['R2',899,392],['CPE2',899,405],['CPE3',929,392],['C1',960,392]].forEach(function (t) {
    label(c, t[1], t[2], t[0], 3.6, 'circuit-label', {anchor: 'middle'});
  });
})();

// ---------- Panel g ----------
(function () {
  const p = panel({L: 62, R: 1020, T: 559, B: 794.3, xmin: -8.5, xmax: 1800, ymin: 30, ymax: 150});
  const q = panel({L: 62, R: 1020, T: 559, B: 794.3, xmin: -8.5, xmax: 1800, ymin: 90, ymax: 105});
  const g = group(root, 'panel-g');
  curve(p, g, stepPairs(0, gCapStep, gCap368), '#f8881c', 8, 'capacity-368-band');
  stepDots(p, g, 0, gCapStep, gCap368, 4, 'url(#flatOrange)', 'capacity-368-point');
  pairDots(p, g, gCap368Outliers, 3.8, 'url(#ballOrange)', 'capacity-368-outlier');
  curve(p, g, stepPairs(0, gCapStep, gCap92), '#f0434c', 8.4, 'capacity-92-band');
  stepDots(p, g, 0, gCapStep, gCap92, 4.2, 'url(#flatRed)', 'capacity-92-point');
  stepDots(q, g, 0, gCeStepA, gCe368A, 4, 'url(#ballBlue)', 'efficiency-368-point');
  stepDots(q, g, 4, gCeStepA, gCe368A2, 4, 'url(#ballBlue)', 'efficiency-368-point');
  stepDots(q, g, 1387, gCeStepB, gCe368B, 4.1, 'url(#ballBlue)', 'efficiency-368-point');
  pairDots(q, g, gCe368Outliers, 4.4, 'url(#ballBlue)', 'efficiency-368-outlier');
  stepDots(q, g, 0, gCeStep92, gCe92, 4, 'url(#ballGreen)', 'efficiency-92-point');
  stepDots(q, g, 3, gCeStep92, gCe92B, 4, 'url(#ballGreen)', 'efficiency-92-point');
  pairDots(q, g, gCe92Outliers, 4.4, 'url(#ballGreen)', 'efficiency-92-outlier');

  const colors = ['#222','#2a6db5','#2a6db5','#2a6db5'];
  gRetention.forEach(function (r, i) {
    const y = p.fy(r[1]);
    const x = p.fx(r[0]);
    const w = i === 0 ? 2 : 1.5;
    mk(g, 'line', {x1: 70, x2: x, y1: y, y2: y, stroke: colors[i], 'stroke-width': w}, 'retention-guide-horizontal');
    mk(g, 'polygon', {points: '64,' + y + ' 75,' + (y - 3.5) + ' 75,' + (y + 3.5), fill: colors[i]}, 'retention-arrowhead');
    if (i < 3) {
      mk(g, 'line', {x1: x, x2: x, y1: y, y2: p.B, stroke: colors[i], 'stroke-width': w}, 'retention-guide-vertical');
    }
  });

  mk(g, 'line', {x1: p.L, x2: p.L, y1: p.T, y2: p.B, stroke: '#1c1c1c', 'stroke-width': 2}, 'left-axis-line');
  mk(g, 'line', {x1: p.L, x2: p.R, y1: p.T, y2: p.T, stroke: '#1c1c1c', 'stroke-width': 2}, 'top-axis-line');
  mk(g, 'line', {x1: p.L, x2: p.R, y1: p.B, y2: p.B, stroke: '#1c1c1c', 'stroke-width': 2}, 'bottom-axis-line');
  mk(g, 'line', {x1: p.R, x2: p.R, y1: p.T, y2: p.B, stroke: '#6ec6f5', 'stroke-width': 2.2}, 'right-axis-line');

  gXTicks.forEach(function (t) {
    mk(g, 'line', {x1: p.fx(t), x2: p.fx(t), y1: p.B, y2: p.B + 5, stroke: '#1c1c1c', 'stroke-width': 1.6}, 'x-tick');
    label(g, p.fx(t), 816, t, 14.5, 'x-tick-label', {anchor: 'middle'});
  });
  gCapTicks.forEach(function (t) {
    mk(g, 'line', {x1: p.L - 5, x2: p.L, y1: p.fy(t), y2: p.fy(t), stroke: '#1c1c1c', 'stroke-width': 1.6}, 'left-y-tick');
    label(g, 53, p.fy(t) + 5.3, t, 14.5, 'left-y-tick-label', {anchor: 'end'});
  });
  gCeTicks.forEach(function (t) {
    mk(g, 'line', {x1: p.R, x2: p.R + 5, y1: q.fy(t), y2: q.fy(t), stroke: '#6ec6f5', 'stroke-width': 1.8}, 'right-y-tick');
    label(g, 1029, q.fy(t) + 6, t, 16.5, 'right-y-tick-label', {fill: '#6ec6f5'});
  });
  label(g, 541, 857, 'Cycle number (N)', 20.6, 'x-axis-title', {anchor: 'middle'});
  label(g, 15, 677, 'Specific Capacity (mAh g^-1^)', 16, 'left-y-axis-title', {anchor: 'middle', rotate: -90});
  label(g, 1078, 677, 'Coulombic efficiency (%)', 16.5, 'right-y-axis-title', {anchor: 'middle', rotate: -90, fill: '#6ec6f5'});

  mk(g, 'circle', {cx: 100.5, cy: 579, r: 5, fill: 'url(#ballOrange)'}, 'legend-marker-368');
  mk(g, 'circle', {cx: 100.5, cy: 605, r: 5, fill: 'url(#ballRed)'}, 'legend-marker-92');
  mk(g, 'circle', {cx: 297, cy: 580, r: 5, fill: 'url(#ballBlue)'}, 'legend-marker-ce-368');
  mk(g, 'circle', {cx: 297, cy: 606, r: 5, fill: 'url(#ballGreen)'}, 'legend-marker-ce-92');
  label(g, 122, 585.5, '-40℃; 368 mA g^-1^', 17.5, 'legend-label-368');
  label(g, 122, 611.5, '-40℃; 92 mA g^-1^', 17.5, 'legend-label-92');
  label(g, 318, 586, 'Coulombic efficiency at 368 mA g^-1^', 17.5, 'legend-label-ce-368');
  label(g, 318, 612, 'Coulombic efficiency at 92 mA g^-1^', 17.5, 'legend-label-ce-92');

  label(g, 357, 667, '~ 94%', 17.5, 'retention-label-600');
  label(g, 479, 670, '~ 94.5%', 16.4, 'retention-label-840');
  label(g, 677, 688, '~ 85%', 17.5, 'retention-label-1200');
  label(g, 966, 705, '~ 76%', 17.5, 'retention-label-1800');
})();
</script>
</body>
</html>
